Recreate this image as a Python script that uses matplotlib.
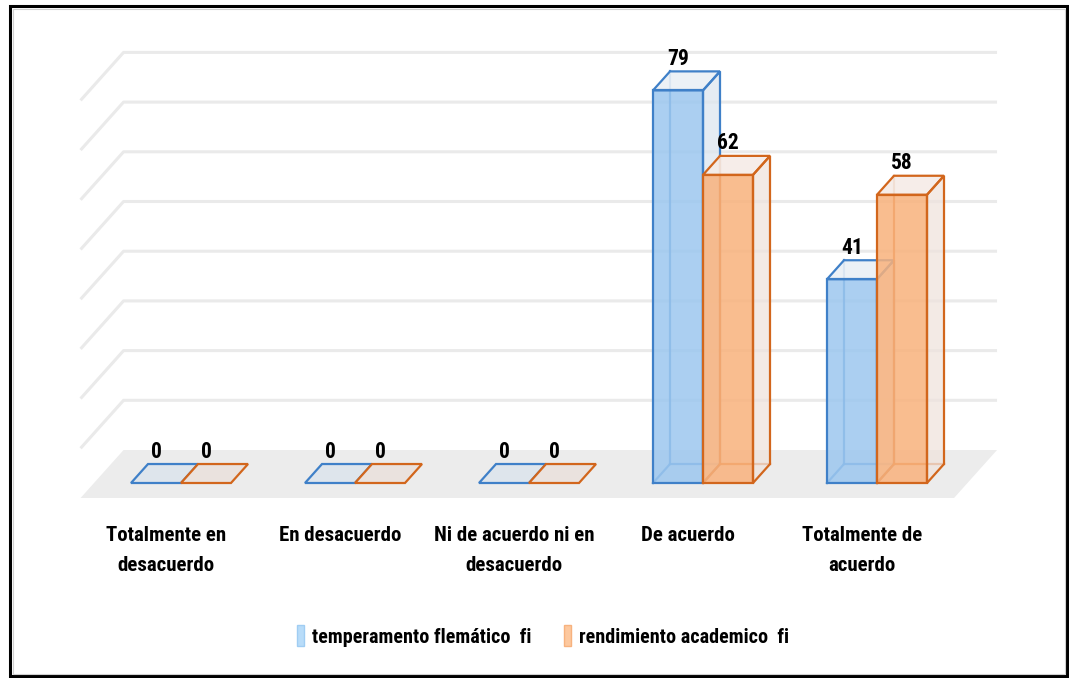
import matplotlib
matplotlib.use("Agg")
import matplotlib.pyplot as plt
from matplotlib.patches import Polygon, Rectangle, Patch

# ---------------- data ----------------
categories = ["Totalmente en\ndesacuerdo", "En desacuerdo", "Ni de acuerdo ni en\ndesacuerdo",
              "De acuerdo", "Totalmente de\nacuerdo"]
series_names = ["temperamento flemático  fi", "rendimiento academico  fi"]
temperamento = [0, 0, 0, 79, 41]
rendimiento = [0, 0, 0, 62, 58]
gridlines = [10, 20, 30, 40, 50, 60, 70, 80]

# ---------------- style ----------------
FONT = ["Roboto Condensed", "Lato", "DejaVu Sans"]
edge_cols = ["#3F80C8", "#D2661C"]
front_cols = ["#9CC7EF", "#F9B27C"]
side_cols = ["#DDE6EF", "#EFE3DD"]
top_cols = ["#EAF0F6", "#F5ECE7"]
flat_cols = ["#DEE5EC", "#EAE2DE"]
floor_col = "#ECECEC"
grid_col = "#EAEAEA"

W, H = 1069, 678
fig = plt.figure(figsize=(W / 100, H / 100), dpi=100)
ax = fig.add_axes([0, 0, 1, 1])
# axis scale: 174 px per category, 4.97 px per value unit
px_x, px_y = 174.0, 4.97
x0px, y0px = 181.0, 483.0
ax.set_xlim(-x0px / px_x, (W - x0px) / px_x)
ax.set_ylim((y0px - H) / px_y, y0px / px_y)
ax.axis("off")

# oblique depth: one depth unit = (43 px right, 48 px up)
Dx, Dy = 43 / px_x, 48 / px_y
z_ref = 0.3125          # bar front plane
z_bar_back = 0.708
z_wall = 1.0


def P(x, v, z):
    return (x + (z - z_ref) * Dx, v + (z - z_ref) * Dy)


xl, xr = -0.5, 4.52
# floor
ax.add_patch(Polygon([P(xl, 0, 0), P(xr, 0, 0), P(xr, 0, z_wall), P(xl, 0, z_wall)],
                     closed=True, facecolor=floor_col, edgecolor="none", zorder=1))
# wall + side gridlines
for g in gridlines:
    a, b, c = P(xl, g, 0), P(xl, g, z_wall), P(xr, g, z_wall)
    ax.plot([a[0], b[0], c[0]], [a[1], b[1], c[1]], color=grid_col, lw=2.2,
            solid_capstyle="butt", zorder=1)

bw = 50 / px_x
z0, z1 = z_ref, z_bar_back


def draw_bar(xa, xb, v, k, zo):
    ec = edge_cols[k]
    lw = 1.6
    if v == 0:
        ax.add_patch(Polygon([P(xa, 0, z0), P(xb, 0, z0), P(xb, 0, z1), P(xa, 0, z1)],
                             closed=True, facecolor=flat_cols[k], edgecolor=ec, lw=lw, zorder=zo))
        return
    # hidden edges
    hidden = [[P(xa, 0, z0), P(xa, 0, z1)], [P(xa, 0, z1), P(xb, 0, z1)], [P(xa, 0, z1), P(xa, v, z1)]]
    for seg in hidden:
        ax.plot([seg[0][0], seg[1][0]], [seg[0][1], seg[1][1]], color=ec, lw=lw, alpha=0.9, zorder=zo)
    # faces
    right = [P(xb, 0, z0), P(xb, 0, z1), P(xb, v, z1), P(xb, v, z0)]
    top = [P(xa, v, z0), P(xb, v, z0), P(xb, v, z1), P(xa, v, z1)]
    front = [P(xa, 0, z0), P(xb, 0, z0), P(xb, v, z0), P(xa, v, z0)]
    ax.add_patch(Polygon(right, closed=True, facecolor=side_cols[k], alpha=0.75,
                         edgecolor="none", zorder=zo))
    ax.add_patch(Polygon(top, closed=True, facecolor=top_cols[k], alpha=0.9,
                         edgecolor="none", zorder=zo))
    ax.add_patch(Polygon(front, closed=True, facecolor=front_cols[k], alpha=0.85,
                         edgecolor="none", zorder=zo))
    for poly in (right, top, front):
        ax.add_patch(Polygon(poly, closed=True, facecolor="none", edgecolor=ec, lw=lw, zorder=zo))


for i in range(len(categories)):
    vals = [temperamento[i], rendimiento[i]]
    for k, v in enumerate(vals):
        xa = i - bw + k * bw
        draw_bar(xa, xa + bw, v, k, 3 + i * 2 + k)
    for k, v in enumerate(vals):
        xa = i - bw + k * bw
        lx, ly = P(xa + bw / 2, v, z1)
        ax.text(xa + bw / 2, ly + 0.3, str(v), ha="center", va="bottom",
                fontsize=15.5, fontweight="bold", family=FONT, color="black", zorder=30)

# category labels
for i, c in enumerate(categories):
    ax.text(i - 15 / px_x, (y0px - 526) / px_y, c, ha="center", va="top",
            fontsize=15, fontweight="bold", family=FONT, linespacing=1.75, zorder=30)

# legend
handles = [Patch(facecolor="#B8DCF9", edgecolor="#A0CDF3", label=series_names[0]),
           Patch(facecolor="#FDC89E", edgecolor="#F7B27E", label=series_names[1])]
leg = ax.legend(handles=handles, loc="center", bbox_to_anchor=(543 / W, 1 - 636 / H),
                ncol=2, frameon=False, handlelength=0.35, handleheight=1.2,
                handletextpad=0.4, columnspacing=1.6,
                prop={"family": FONT, "weight": "bold", "size": 14.5})

# outer frame
fig.patches.append(Rectangle((10 / W, 1 - 676 / H), 1057 / W, 670 / H, transform=fig.transFigure,
                             facecolor="none", edgecolor="black", lw=2.2, zorder=50))
fig.patches.append(Rectangle((12.5 / W, 1 - 673.5 / H), 1052 / W, 665 / H, transform=fig.transFigure,
                             facecolor="none", edgecolor="#D0D0D0", lw=0.8, zorder=50))

fig.savefig("out.png", dpi=100)
